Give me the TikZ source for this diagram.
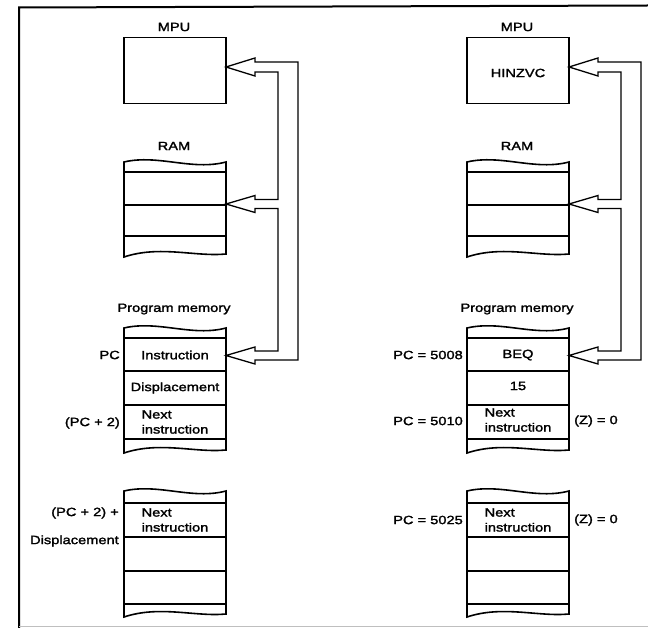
\documentclass[tikz,border=0pt]{standalone}
\usepackage{fontspec}
\setmainfont{Liberation Sans}[FakeStretch=1.22,FakeBold=1.8]
\usetikzlibrary{calc}

\tikzset{
  membox/.style={line width=1.6pt},
  bus/.style={line width=1.3pt, line join=miter},
  lbl/.style={font=\fontsize{12}{15}\selectfont, inner sep=0pt},
}

\begin{document}
\begin{tikzpicture}[x=1pt,y=-1pt]
  \useasboundingbox (0,0) rectangle (648,628);
  % frame of the scan
  \draw[line width=2pt] (648,5.5) -- (19,7.5) -- (19,628);
  \draw[gray!50,line width=0.8pt] (19,626.5) -- (648,626.5);
  \foreach \c/\n in {0/l, 343/r} {
    \node[draw,membox,minimum width=102pt,minimum height=66pt,inner sep=0pt] (mpu\n) at (\c+175,70.5) {};
    \node[lbl] (mpulbl\n) at (\c+174,27) {MPU};
    \node[lbl] (ramlbl\n) at (\c+174,146) {RAM};
    \node[lbl] (pmlbl\n) at (\c+174,309) {Program memory};
    % memory strips with torn ends
    \foreach \t/\b/\rows in {162/254/{172,205,236}, 328/450/{338,371,405,439}, 491/614/{503,537,571,604}} {
      \draw[membox] (\c+124,\t) .. controls (\c+158,\t-8) and (\c+192,\t+9) .. (\c+226,\t)
        -- (\c+226,\b) .. controls (\c+195,\b+3) and (\c+160,\b-9) .. (\c+124,\b+3) -- cycle;
      \foreach \r in \rows
        \draw[membox] (\c+124,\r) -- (\c+226,\r);
    }
    % hollow bus from program memory to RAM and MPU
    \coordinate (mputip\n) at (\c+226,67);
    \coordinate (ramtip\n) at (\c+226,204);
    \coordinate (pmtip\n) at (\c+226,355.5);
    \coordinate (outtop\n) at (\c+298,62);
    \coordinate (inram\n) at (\c+278,199.5);
    \coordinate (inpm\n) at (\c+278,351);
    \draw[bus] ($(pmtip\n)+(29,4.5)$) -| (outtop\n) -- ($(mputip\n)+(29,-5)$) -- ++(0,-4)
      -- (mputip\n) -- ++(29,9) -- ++(0,-4) -| (inram\n) -- ($(ramtip\n)+(29,-4.5)$) -- ++(0,-4)
      -- (ramtip\n) -- ++(29,8.5) -- ++(0,-4) -| (inpm\n) -- ($(pmtip\n)+(29,-4.5)$) -- ++(0,-4)
      -- (pmtip\n) -- ++(29,8.5) -- cycle;
  }
  % left column texts
  \node[lbl] (instr) at (175,355) {Instruction};
  \node[lbl] (disp) at (175,388) {Displacement};
  \node[lbl,align=left] (nextl) at (175,422) {Next\\instruction};
  \node[lbl,anchor=east] (pcl) at (120,355) {PC};
  \node[lbl,anchor=east] (pctwo) at (120,423) {(PC + 2)};
  \node[lbl,align=left] (jumpl) at (175,520) {Next\\instruction};
  \node[lbl,anchor=east,align=right] (pcdisp) at (119,527) {(PC + 2) +\\[13pt]Displacement};
  % right column texts
  \node[lbl] (flags) at (518,73) {HINZVC};
  \node[lbl] (beq) at (518,355) {BEQ};
  \node[lbl] (offset) at (518,386) {15};
  \node[lbl,align=left] (nextr) at (518,420) {Next\\instruction};
  \node[lbl,anchor=east] (pcold) at (463,355) {PC = 5008};
  \node[lbl,anchor=east] (pcnext) at (463,421) {PC = 5010};
  \node[lbl,anchor=west] (zflag) at (574,421) {(Z) = 0};
  \node[lbl,align=left] (jumpr) at (518,520) {Next\\instruction};
  \node[lbl,anchor=east] (pcjump) at (463,520) {PC = 5025};
  \node[lbl,anchor=west] (zflagj) at (574,520) {(Z) = 0};
\end{tikzpicture}
\end{document}
